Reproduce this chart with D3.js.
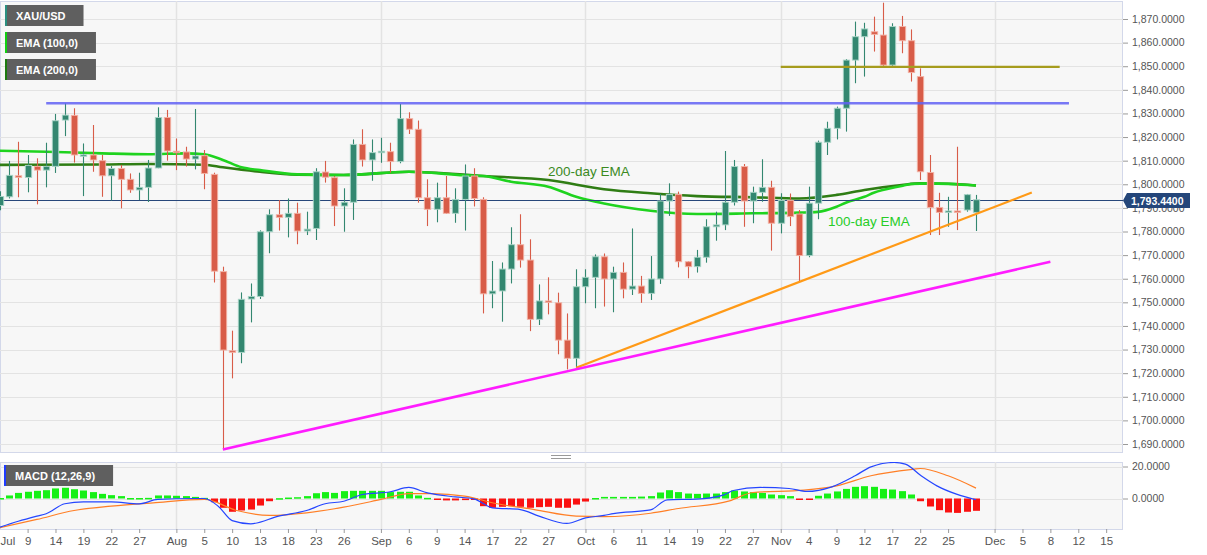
<!DOCTYPE html>
<html><head><meta charset="utf-8">
<script src="https://cdn.jsdelivr.net/npm/d3@7"></script>
<style>
html,body{margin:0;padding:0;background:#fff;}
svg{display:block;font-family:"Liberation Sans",Arial,sans-serif;}
</style></head><body>
<svg id="chart" width="1207" height="555"></svg>
<script>
// ---------------- DATA ----------------
const dates = [
"2021-07-06","2021-07-07","2021-07-08","2021-07-09","2021-07-12","2021-07-13","2021-07-14","2021-07-15","2021-07-16","2021-07-19",
"2021-07-20","2021-07-21","2021-07-22","2021-07-23","2021-07-26","2021-07-27","2021-07-28","2021-07-29","2021-07-30","2021-08-02",
"2021-08-03","2021-08-04","2021-08-05","2021-08-06","2021-08-09","2021-08-10","2021-08-11","2021-08-12","2021-08-13","2021-08-16",
"2021-08-17","2021-08-18","2021-08-19","2021-08-20","2021-08-23","2021-08-24","2021-08-25","2021-08-26","2021-08-27","2021-08-30",
"2021-08-31","2021-09-01","2021-09-02","2021-09-03","2021-09-06","2021-09-07","2021-09-08","2021-09-09","2021-09-10","2021-09-13",
"2021-09-14","2021-09-15","2021-09-16","2021-09-17","2021-09-20","2021-09-21","2021-09-22","2021-09-23","2021-09-24","2021-09-27",
"2021-09-28","2021-09-29","2021-09-30","2021-10-01","2021-10-04","2021-10-05","2021-10-06","2021-10-07","2021-10-08","2021-10-11",
"2021-10-12","2021-10-13","2021-10-14","2021-10-15","2021-10-18","2021-10-19","2021-10-20","2021-10-21","2021-10-22","2021-10-25",
"2021-10-26","2021-10-27","2021-10-28","2021-10-29","2021-11-01","2021-11-02","2021-11-03","2021-11-04","2021-11-05","2021-11-08",
"2021-11-09","2021-11-10","2021-11-11","2021-11-12","2021-11-15","2021-11-16","2021-11-17","2021-11-18","2021-11-19","2021-11-22",
"2021-11-23","2021-11-24","2021-11-25","2021-11-26","2021-11-29","2021-11-30"];
const opens = [
1791.0,1794.7,1803.6,1802.9,1807.6,1806.0,1807.6,1827.2,1829.2,1812.1,
1812.4,1810.0,1803.6,1806.7,1802.1,1797.6,1798.7,1806.9,1828.3,1814.0,
1813.7,1810.7,1812.1,1804.2,1763.0,1729.5,1728.8,1751.4,1752.5,1779.9,
1787.1,1786.0,1787.7,1780.2,1781.3,1805.2,1802.8,1790.8,1792.4,1816.9,
1810.3,1813.4,1813.8,1809.6,1827.8,1823.3,1794.3,1789.4,1794.3,1787.7,
1793.6,1803.5,1793.6,1753.6,1754.8,1764.1,1774.4,1767.9,1742.8,1750.6,
1749.8,1734.0,1726.3,1756.6,1760.6,1769.3,1759.9,1762.7,1755.6,1756.9,
1753.8,1759.9,1792.9,1795.7,1767.2,1765.1,1769.1,1782.0,1782.8,1792.4,
1807.5,1792.9,1796.6,1798.7,1783.5,1793.1,1787.4,1769.8,1792.0,1817.8,
1823.7,1832.2,1852.6,1862.5,1864.6,1863.2,1850.5,1866.8,1860.8,1845.6,
1805.0,1790.2,1788.1,1788.7,1789.1,1788.1];
const highs = [
1797.0,1809.9,1818.0,1812.4,1811.0,1817.6,1829.8,1834.3,1832.2,1817.3,
1825.1,1812.4,1807.7,1808.2,1804.6,1804.9,1810.3,1832.6,1831.5,1819.4,
1815.9,1831.9,1814.5,1804.9,1765.1,1738.0,1754.2,1758.0,1780.5,1789.4,
1793.3,1794.0,1792.2,1788.4,1806.8,1809.9,1803.5,1798.3,1819.0,1823.3,
1819.0,1819.7,1817.6,1834.0,1830.5,1827.0,1802.1,1800.7,1803.5,1798.3,
1808.4,1806.8,1794.5,1767.5,1766.9,1781.8,1787.3,1776.7,1757.6,1760.6,
1754.1,1745.3,1764.0,1764.0,1770.3,1770.7,1765.1,1766.9,1781.3,1761.2,
1769.6,1795.9,1800.4,1796.9,1767.5,1772.2,1785.2,1788.4,1814.1,1810.3,
1808.6,1799.0,1810.6,1801.5,1796.2,1796.1,1789.1,1799.0,1818.5,1826.5,
1832.9,1853.0,1868.9,1868.4,1871.0,1876.9,1868.2,1871.3,1865.6,1849.1,
1812.4,1796.4,1794.7,1815.9,1795.9,1795.5];
const lows = [
1789.0,1794.0,1794.5,1796.6,1791.5,1798.7,1804.8,1820.4,1809.2,1795.0,
1805.3,1794.7,1793.1,1789.8,1796.4,1793.3,1792.5,1806.8,1810.0,1806.0,
1807.5,1806.3,1797.9,1758.4,1687.7,1717.8,1724.2,1741.5,1751.4,1770.8,
1780.4,1777.5,1774.6,1778.5,1776.4,1800.7,1782.3,1779.9,1784.9,1807.5,
1801.5,1809.1,1804.9,1808.9,1821.3,1792.2,1782.3,1783.9,1787.4,1783.7,
1780.4,1790.6,1745.3,1747.5,1741.8,1758.0,1764.7,1737.8,1740.4,1744.9,
1728.0,1721.6,1722.3,1749.6,1747.5,1748.2,1745.8,1751.7,1753.1,1749.8,
1751.0,1757.8,1786.6,1764.8,1760.2,1762.6,1766.8,1776.1,1780.6,1791.0,
1782.0,1783.5,1792.6,1771.9,1779.2,1782.3,1759.0,1769.1,1785.2,1812.4,
1819.0,1822.3,1842.8,1845.6,1856.2,1849.8,1849.8,1855.5,1843.5,1801.8,
1778.5,1778.5,1782.0,1780.6,1788.4,1780.2];
const closes = [
1794.8,1803.8,1802.9,1808.0,1806.0,1807.6,1826.9,1829.3,1812.4,1812.5,
1810.3,1803.6,1806.7,1802.1,1797.6,1798.7,1806.9,1828.3,1814.1,1813.5,
1810.7,1812.0,1804.6,1763.2,1729.8,1728.8,1751.3,1752.5,1779.9,1787.1,
1786.0,1787.7,1780.2,1781.0,1805.3,1803.0,1790.8,1792.4,1816.9,1810.3,
1813.4,1814.0,1809.6,1827.8,1823.3,1794.3,1789.4,1794.3,1787.7,1793.6,
1803.5,1794.0,1753.6,1754.8,1764.1,1774.4,1767.9,1742.8,1750.6,1750.0,
1734.0,1726.3,1756.6,1760.6,1769.3,1759.9,1762.7,1755.6,1756.9,1753.8,
1759.9,1792.9,1795.7,1767.2,1765.1,1769.1,1782.0,1782.8,1792.4,1807.5,
1792.9,1796.6,1798.7,1783.5,1793.1,1786.3,1769.8,1792.0,1817.8,1823.7,
1832.2,1852.6,1862.5,1865.8,1863.5,1850.5,1866.8,1860.8,1847.3,1805.3,
1790.2,1788.1,1788.7,1788.1,1795.6,1793.44];

// EMA readings (bar index, value)
const ema100Idx = [0,5,11,16,20,22,24,26,28,32,37,44,50,52,55,59,62,65,70,75,81,86,88,90,91,93,94,97,98,100,105];
const ema100Val = [1814.2,1813.8,1813.1,1812.7,1813.1,1812.7,1810.3,1807.2,1806.0,1804.2,1803.9,1805.3,1803.8,1803.5,1801.1,1799.0,1794.7,1791.9,1788.8,1787.4,1787.7,1788.0,1788.3,1790.5,1792.2,1794.7,1796.4,1799.3,1800.1,1800.4,1799.5];
const ema200Idx = [0,11,16,22,24,28,32,37,44,52,59,65,70,75,81,86,90,93,97,99,102,105];
const ema200Val = [1808.2,1808.4,1808.6,1808.3,1807.2,1805.3,1804.1,1803.9,1805.3,1803.5,1801.8,1797.9,1796.2,1795.0,1794.5,1794.0,1795.5,1797.6,1799.7,1800.4,1800.2,1799.5];

// MACD (12,26,9)
const histVals = [
0.3,1.9,3.5,4.2,4.8,5.2,6.3,6.7,5.8,5.0,
4.0,2.9,2.1,1.5,0.3,0.3,0.4,1.9,1.9,1.7,
1.5,1.0,0.4,-2.3,-5.8,-8.3,-7.5,-6.9,-4.4,-1.7,
0.2,0.6,0.8,1.5,3.3,4.0,3.5,4.6,4.8,4.8,
4.8,4.8,4.0,4.2,4.2,1.9,0.4,-0.3,-1.2,-1.2,
-1.0,-0.8,-4.8,-5.8,-5.2,-4.8,-5.2,-5.8,-5.4,-5.2,
-5.8,-5.8,-3.8,-1.9,0.3,1.0,1.0,1.0,1.0,1.2,
1.5,3.75,5.2,4.0,3.1,2.9,3.1,3.1,4.0,5.0,
4.4,4.0,3.5,2.5,2.1,1.5,-0.6,-0.3,1.7,3.1,
4.4,6.0,7.3,7.7,7.3,6.0,5.6,4.6,2.5,-1.7,
-5.0,-7.3,-8.75,-9.0,-8.3,-7.7];
const macdIdx = [0,2,4,5,7,9,12,15,17,21,22,23.5,25,27,30,33,35,37,39,42,44,46,49,51,53,56,58,61,63,65,66,70,71.8,74.9,77.9,78.9,81.8,84.9,86.8,89.5,92,93.7,96.2,97.4,99.1,100.8,102.9,105];
const macdVal = [-17.9,-14.2,-11.0,-9.5,-3.3,-2.1,-2.1,-3.3,-0.6,0,0,-4.8,-13.8,-15.8,-11.0,-7.5,-3.3,-1.7,2.5,4.2,6.9,3.5,1.0,-0.2,-5.8,-6.9,-11.0,-15.6,-12.1,-10.6,-9.4,-7.1,-0.8,-0.4,2.3,5.0,6.9,6.25,4.4,7.3,14.2,19.8,22.5,21.5,14.2,7.9,2.7,-0.8];
const signalIdx = [0,4,8,12,16.5,22,25.5,29,33,37,41,44,46.5,50,53.5,57.5,62,65,70,73,78.5,81,86.5,90,93.7,98.3,99,102,105];
const signalVal = [-18.3,-13.1,-7.5,-4.8,-2.7,-0.6,-7.5,-10.6,-9.0,-5.4,-0.6,3.1,3.1,1.5,-3.3,-6.9,-11.0,-11.3,-9.2,-6.25,-1.5,3.75,5.2,7.9,14.2,18.3,18.75,14.2,6.5];

// drawn lines (bar index, price)
const resistanceBlue = [[5,1834.3],[115,1834.3]];
const resistanceOlive = [[84,1849.7],[114,1849.7]];
const supportOrange = [[62,1722.3],[111,1796.5]];
const supportMagenta = [[24,1687.7],[113,1767.2]];
const lastPrice = 1793.44;

// axes
const yTicks = [1690,1700,1710,1720,1730,1740,1750,1760,1770,1780,1790,1800,1810,1820,1830,1840,1850,1860,1870];
const macdTicks = [0,20];
const tickIdx = [-3,3,6,9,12,15,19,22,25,28,31,34,37,41,44,47,50,53,56,59,63,66,69,72,75,78,81,84,87,90,93,96,99,102,107,110,113,116,119];
const tickLabels = ["Jul","9","14","19","22","27","Aug","5","10","13","18","23","26","Sep","6","9","14","17","22","27","Oct","6","11","14","19","22","27","Nov","4","9","12","17","22","25","Dec","5","8","12","15"];
const legendLabels = ["XAU/USD","EMA (100,0)","EMA (200,0)"];

// ---------------- DRAW ----------------
const P = {l:0, r:1123, t:1, b:452};
const M = {t:462, b:529};
const svg = d3.select("#chart");
const x = d3.scaleLinear().domain([0,120]).range([-0.3, -0.3 + 120*9.298]);
const y = d3.scaleLinear().domain([1690,1870]).range([444,19]);
const ym = d3.scaleLinear().domain([0,20]).range([498.5,466.5]);

const defs = svg.append("defs");
defs.append("clipPath").attr("id","cm").append("rect")
  .attr("x",P.l).attr("y",P.t).attr("width",P.r-P.l).attr("height",P.b-P.t);
defs.append("clipPath").attr("id","cmac").append("rect")
  .attr("x",P.l).attr("y",M.t).attr("width",P.r-P.l).attr("height",M.b-M.t);

const BORDER = "#d3d8ea", GRID = "#e3e3e3";
svg.append("rect").attr("x",P.l+0.5).attr("y",P.t+0.5).attr("width",P.r-P.l-1).attr("height",P.b-P.t)
  .attr("fill","#f7f7f7").attr("stroke",BORDER);
svg.append("rect").attr("x",P.l+0.5).attr("y",M.t+0.5).attr("width",P.r-P.l-1).attr("height",M.b-M.t)
  .attr("fill","#f7f7f7").attr("stroke",BORDER);

const monthIdx = tickIdx.filter((d,i)=>isNaN(+tickLabels[i]) && d>=0);
const gm = svg.append("g").attr("clip-path","url(#cm)");
gm.selectAll("line.hg").data(yTicks).join("line").attr("class","hg")
  .attr("x1",P.l).attr("x2",P.r).attr("y1",d=>Math.round(y(d))+0.5).attr("y2",d=>Math.round(y(d))+0.5)
  .attr("stroke",GRID).attr("stroke-width",1);
gm.selectAll("line.vg").data(monthIdx).join("line").attr("class","vg")
  .attr("x1",d=>Math.round(x(d))+0.5).attr("x2",d=>Math.round(x(d))+0.5).attr("y1",P.t).attr("y2",P.b)
  .attr("stroke",GRID).attr("stroke-width",1.5);

const gmac = svg.append("g").attr("clip-path","url(#cmac)");
gmac.selectAll("line.hg").data(macdTicks).join("line").attr("class","hg")
  .attr("x1",P.l).attr("x2",P.r).attr("y1",d=>Math.round(ym(d))+0.5).attr("y2",d=>Math.round(ym(d))+0.5)
  .attr("stroke",GRID);
gmac.selectAll("line.vg").data(monthIdx).join("line").attr("class","vg")
  .attr("x1",d=>Math.round(x(d))+0.5).attr("x2",d=>Math.round(x(d))+0.5).attr("y1",M.t).attr("y2",M.b)
  .attr("stroke",GRID).attr("stroke-width",1.5);

// EMAs
const lineGen = d3.line().x(d=>x(d[0])).y(d=>y(d[1])).curve(d3.curveMonotoneX);
gm.append("path").datum(ema200Idx.map((d,i)=>[d,ema200Val[i]]))
  .attr("d",lineGen).attr("fill","none").attr("stroke","#2f7d14").attr("stroke-width",2.6);
gm.append("path").datum(ema100Idx.map((d,i)=>[d,ema100Val[i]]))
  .attr("d",lineGen).attr("fill","none").attr("stroke","#1fd31f").attr("stroke-width",2.6);

// price line
gm.append("line").attr("x1",P.l).attr("x2",P.r)
  .attr("y1",Math.round(y(lastPrice))+0.5).attr("y2",Math.round(y(lastPrice))+0.5)
  .attr("stroke","#27477a").attr("stroke-width",1.2);

// candles
const bars = dates.map((d,i)=>({i,o:opens[i],h:highs[i],l:lows[i],c:closes[i]}));
const UP = "#338770", DN = "#d85c48";
const cg = gm.append("g");
cg.selectAll("line.wick").data(bars).join("line").attr("class","wick")
  .attr("x1",d=>Math.round(x(d.i))+0.5).attr("x2",d=>Math.round(x(d.i))+0.5)
  .attr("y1",d=>y(d.h)).attr("y2",d=>y(d.l))
  .attr("stroke",d=>d.c>=d.o?UP:DN).attr("stroke-width",1.1);
cg.selectAll("rect.body").data(bars).join("rect").attr("class","body")
  .attr("x",d=>Math.round(x(d.i))+0.5-3.2).attr("width",6.4)
  .attr("y",d=>y(Math.max(d.o,d.c)))
  .attr("height",d=>Math.max(1.5,Math.abs(y(d.o)-y(d.c))))
  .attr("fill",d=>d.c>=d.o?UP:DN)
  .attr("stroke",d=>d.c>=d.o?"#a9d4c7":"#f3b3a6").attr("stroke-width",0.9);

// trend lines
const tl = d3.line().x(d=>x(d[0])).y(d=>y(d[1]));
gm.append("path").datum(resistanceBlue).attr("d",tl).attr("stroke","#6161f4").attr("stroke-opacity",0.85).attr("stroke-width",2.6).attr("fill","none");
gm.append("path").datum(resistanceOlive).attr("d",tl).attr("stroke","#a69c1e").attr("stroke-width",2.2).attr("fill","none");
gm.append("path").datum(supportOrange).attr("d",tl).attr("stroke","#ff9a17").attr("stroke-width",2.2).attr("fill","none");
gm.append("path").datum(supportMagenta).attr("d",tl).attr("stroke","#ff1cff").attr("stroke-width",2.6).attr("fill","none");

// annotations
svg.append("text").attr("x",548).attr("y",176).attr("font-size",13.5).attr("fill","#3b8a1f").text("200-day EMA");
svg.append("text").attr("x",828).attr("y",226).attr("font-size",13.5).attr("fill","#27cc27").text("100-day EMA");

// MACD
const hb = bars.map((d,i)=>({i,v:histVals[i]}));
gmac.selectAll("rect.hist").data(hb).join("rect").attr("class","hist")
  .attr("x",d=>Math.round(x(d.i))+0.5-3.5).attr("width",7)
  .attr("y",d=>Math.min(ym(d.v),ym(0))).attr("height",d=>Math.max(1.5,Math.abs(ym(d.v)-ym(0))))
  .attr("fill",d=>d.v>=0?"#16f016":"#fa1111");
const ml = d3.line().x(d=>x(d[0])).y(d=>ym(d[1])).curve(d3.curveMonotoneX);
gmac.append("path").datum(signalIdx.map((d,i)=>[d,signalVal[i]])).attr("d",ml)
  .attr("fill","none").attr("stroke","#ff7f26").attr("stroke-width",1.2);
gmac.append("path").datum(macdIdx.map((d,i)=>[d,macdVal[i]])).attr("d",ml)
  .attr("fill","none").attr("stroke","#2546ff").attr("stroke-width",1.2);

// separator handle
svg.append("line").attr("x1",551).attr("x2",571).attr("y1",455.5).attr("y2",455.5).attr("stroke","#999");
svg.append("line").attr("x1",551).attr("x2",571).attr("y1",458.5).attr("y2",458.5).attr("stroke","#999");

// right axes
function styleAxis(g){
  g.select(".domain").remove();
  g.selectAll(".tick line").attr("stroke","#9a9a9a");
  g.selectAll(".tick text").attr("fill","#555").attr("font-family","Liberation Sans, Arial, sans-serif");
}
svg.append("g").attr("transform",`translate(${P.r},0)`)
  .call(d3.axisRight(y).tickValues(yTicks).tickFormat(d3.format(",.4f")).tickSize(5).tickPadding(4))
  .attr("font-size",10.5).call(styleAxis);
svg.append("g").attr("transform",`translate(${P.r},0)`)
  .call(d3.axisRight(ym).tickValues(macdTicks).tickFormat(d3.format(",.4f")).tickSize(5).tickPadding(4))
  .attr("font-size",10.5).call(styleAxis);

// price tag (drawn over the axis, as in the original)
const py = Math.round(y(lastPrice))+0.5;
svg.append("path").attr("d",`M${P.r},${py} L${P.r+4},${py-7.5} L${P.r+67},${py-7.5} L${P.r+67},${py+7.5} L${P.r+4},${py+7.5} Z`)
  .attr("fill","#24467a");
svg.append("text").attr("x",P.r+8).attr("y",py+4).attr("font-size",10.5).attr("font-weight","bold")
  .attr("fill","#fff").text(d3.format(",.4f")(lastPrice));

// bottom axis
const xa = svg.append("g").attr("transform",`translate(0,${M.b})`)
  .call(d3.axisBottom(x).tickValues(tickIdx).tickFormat((d,i)=>tickLabels[i]).tickSize(4).tickPadding(4))
  .attr("font-size",11.5).call(styleAxis);
xa.selectAll(".tick").filter(d=>x(d)<8).each(function(d){
  d3.select(this).select("line").remove();
  d3.select(this).select("text").attr("text-anchor","start").attr("x",-x(d));
});

// legends
function legendBox(lx,ly,label,color){
  const g = svg.append("g");
  const t = g.append("text").attr("x",lx+11).attr("y",ly+14.5).attr("font-size",11).attr("font-weight","bold")
    .attr("fill","#fff").text(label);
  const w = t.node().getComputedTextLength()+29;
  g.insert("rect","text").attr("x",lx).attr("y",ly).attr("width",w).attr("height",21).attr("fill","#5f5f5f");
  g.insert("rect","text").attr("x",lx).attr("y",ly).attr("width",2).attr("height",21).attr("fill",color);
}
legendBox(5,5,legendLabels[0],"#2a8f80");
legendBox(5,32,legendLabels[1],"#11d011");
legendBox(5,59,legendLabels[2],"#1d7a10");
legendBox(4,465,"MACD (12,26,9)","#1f3bff");
</script>
</body></html>
